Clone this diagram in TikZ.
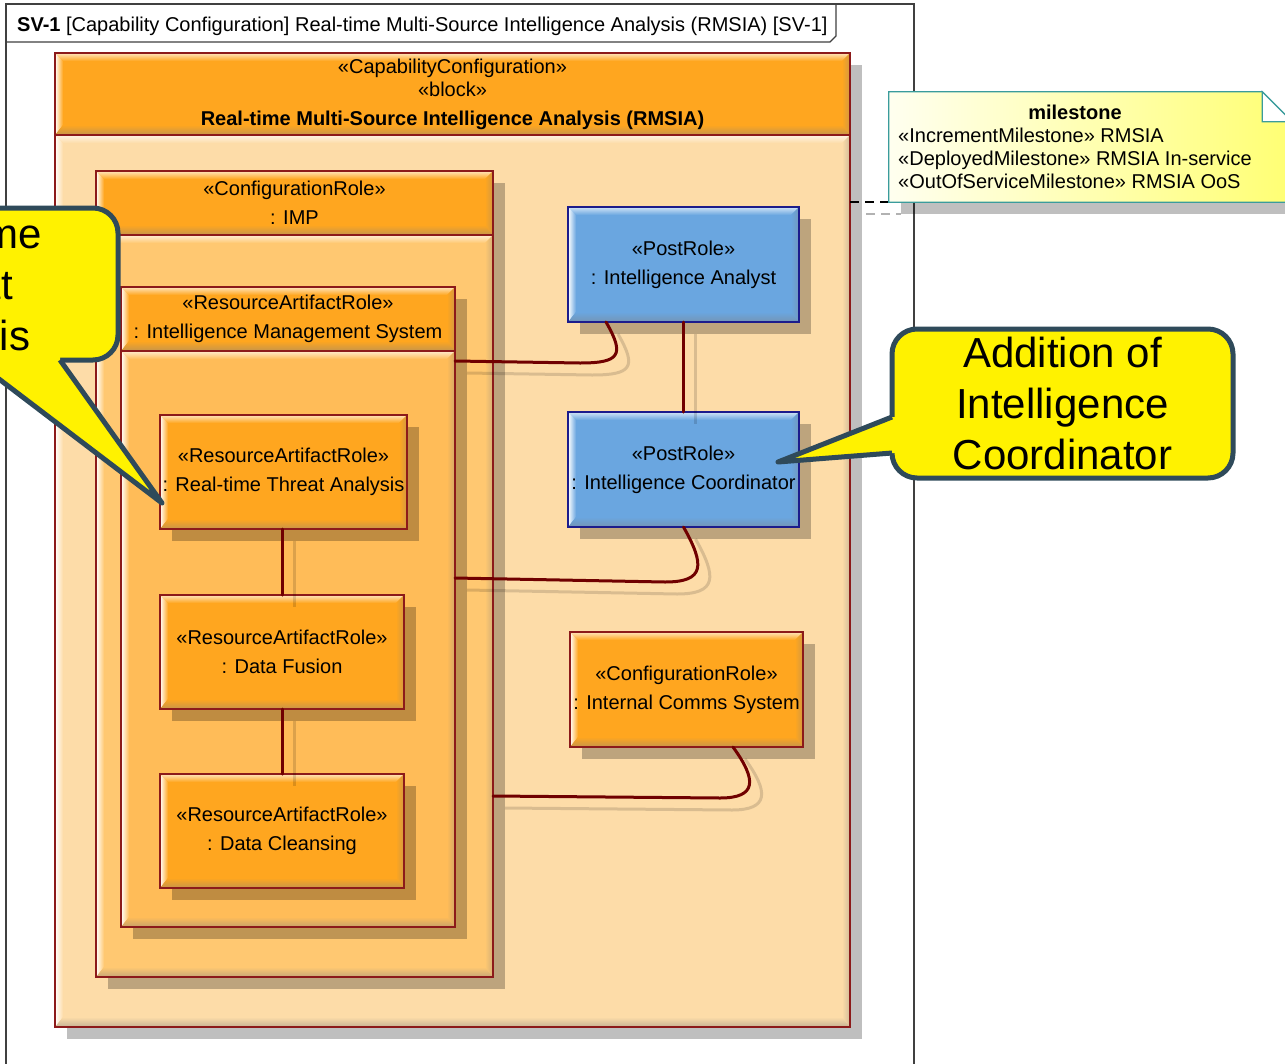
\documentclass[tikz,border=0pt]{standalone}
\usepackage{fontspec}
\setmainfont{Liberation Sans}
\usetikzlibrary{calc,shadows}

\definecolor{roleorange}{HTML}{FFA61F}
\definecolor{blockbody}{HTML}{FDDCA8}
\definecolor{impbody}{HTML}{FFC871}
\definecolor{imsbody}{HTML}{FFBC58}
\definecolor{postblue}{HTML}{6AA6E0}
\definecolor{roleedge}{HTML}{8C1A1A}
\definecolor{postedge}{HTML}{1C1C8C}
\definecolor{wirecol}{HTML}{700000}
\definecolor{calledge}{HTML}{2F4A5A}
\definecolor{noteedge}{HTML}{3A9C9C}
\definecolor{frameedge}{HTML}{404040}

\newcommand\rolefont{\fontsize{20}{29}\selectfont}
\newcommand\blockfont{\fontsize{20}{23}\selectfont}
\newcommand\notefont{\fontsize{20}{23}\selectfont}
\newcommand\callfont{\fontsize{42}{51}\selectfont}

\tikzset{
  bevel/.style={fill=#1, path picture={
    \coordinate (bnw) at (path picture bounding box.north west);
    \coordinate (bne) at (path picture bounding box.north east);
    \coordinate (bsw) at (path picture bounding box.south west);
    \coordinate (bse) at (path picture bounding box.south east);
    \shade[top color=#1!30!white, bottom color=#1]
      (bnw) -- (bne) -- ($(bne)+(-8,8)$) -- ($(bnw)+(8,8)$) -- cycle;
    \shade[left color=white, right color=#1]
      (bnw) -- ($(bnw)+(8,8)$) -- ($(bsw)+(8,-10)$) -- (bsw) -- cycle;
    \shade[top color=#1, bottom color=#1!55!gray]
      (bsw) -- ($(bsw)+(8,-10)$) -- ($(bse)+(-8,-10)$) -- (bse) -- cycle;
    \shade[left color=#1, right color=#1!65!gray]
      (bne) -- (bse) -- ($(bse)+(-8,-10)$) -- ($(bne)+(-8,8)$) -- cycle;
  }},
  dropshadow/.style={general shadow={fill=black, opacity=0.25,
      shadow xshift=12pt, shadow yshift=-12pt}},
  rolebox/.style={bevel=#1, draw=roleedge, line width=1.2pt, inner sep=0pt,
      outer sep=0pt, align=center, font=\rolefont, dropshadow},
  postbox/.style={rolebox=postblue, draw=postedge},
  wire/.style={draw=wirecol, line width=3pt, line cap=round,
      preaction={draw=black, opacity=0.14, line width=3pt,
        transform canvas={shift={(12pt,-12pt)}}}},
  callout/.style={fill=yellow, draw=calledge, line width=5pt},
  pointer/.style={draw=calledge, line width=5pt, line join=round},
}

\begin{document}
\begin{tikzpicture}[x=1pt, y=-1pt]
\useasboundingbox (0,0) rectangle (1285,1063);
\clip (0,0) rectangle (1285,1063);
\fill[white] (0,0) rectangle (1285,1063);

% diagram frame and its name tab
\draw[frameedge, line width=1.2pt] (6,1075) -- (6,4) -- (914,4) -- (914,1075);
\draw[frameedge, line width=1.2pt] (6,42) -- (830,42) -- (836,36) -- (836,4);
\node[anchor=west, inner sep=0pt, font=\fontsize{20}{24}\selectfont] (title) at (17,26)
  {\textbf{SV-1} [Capability Configuration] Real-time Multi-Source Intelligence Analysis (RMSIA) [SV-1]};

% capability configuration block
\node[rolebox=roleorange, minimum width=795pt, minimum height=82pt, font=\blockfont] (rmsiahead) at (452.5,94)
  {«CapabilityConfiguration»\\«block»\\[6pt]\textbf{Real-time Multi-Source Intelligence Analysis (RMSIA)}};
\node[rolebox=blockbody, minimum width=795pt, minimum height=892pt] (rmsia) at (452.5,581) {};

% IMP configuration role
\node[rolebox=roleorange, minimum width=397pt, minimum height=64pt] (imphead) at (294.5,203)
  {«ConfigurationRole»\\: IMP};
\node[rolebox=impbody, minimum width=397pt, minimum height=742pt] (imp) at (294.5,606) {};

% intelligence management system
\node[rolebox=roleorange, minimum width=334pt, minimum height=64pt] (imshead) at (288,319)
  {«ResourceArtifactRole»\\: Intelligence Management System};
\node[rolebox=imsbody, minimum width=334pt, minimum height=576pt] (ims) at (288,639) {};

% resource artifact roles
\node[rolebox=roleorange, minimum width=247pt, minimum height=114pt] (rta) at (283.5,472)
  {«ResourceArtifactRole»\\: Real-time Threat Analysis};
\node[rolebox=roleorange, minimum width=244pt, minimum height=114pt] (df) at (282,652)
  {«ResourceArtifactRole»\\: Data Fusion};
\node[rolebox=roleorange, minimum width=244pt, minimum height=114pt] (dc) at (282,831)
  {«ResourceArtifactRole»\\: Data Cleansing};

% post roles
\node[postbox, minimum width=231pt, minimum height=115pt] (ia) at (683.5,264.5)
  {«PostRole»\\: Intelligence Analyst};
\node[postbox, minimum width=231pt, minimum height=115pt] (ic) at (683.5,469.5)
  {«PostRole»\\: Intelligence Coordinator};

% communications
\node[rolebox=roleorange, minimum width=233pt, minimum height=115pt] (ics) at (686.5,689.5)
  {«ConfigurationRole»\\: Internal Comms System};

% connectors
\draw[wire] (df.north |- rta.south) -- (df.north);
\draw[wire] (df.south) -- (dc.north);
\draw[wire] (ia.south) -- (ic.north);
\draw[wire] ($(ia.south west)+(38,0)$) .. controls (625,355) and (620,363) .. (580,363) -- (ims.east |- 0,361);
\draw[wire] (ic.south) .. controls (705,565) and (705,582) .. (665,582) -- (ims.east |- 0,578);
\draw[wire] ($(ics.south west)+(163,0)$) .. controls (757,780) and (757,798) .. (720,798) -- (imp.east |- 0,796);

% milestone note
\node[minimum width=403pt, minimum height=110pt, inner sep=0pt] (note) at (1090.5,147) {};
\fill[black, opacity=0.25] (901,202) rectangle (1310,214);
\draw[gray!60, line width=2pt, dash pattern=on 9pt off 6pt] (866,214) -- (901,214);
\draw[black, line width=2pt, dash pattern=on 9pt off 6pt] (rmsia.east |- note.south west) -- (note.south west);
\shadedraw[left color=yellow!6, right color=yellow!55, draw=noteedge, line width=1.2pt]
  (note.south west) -- (note.north west) -- ($(note.north east)+(-30,0)$)
  -- ($(note.north east)+(0,30)$) -- (note.south east) -- cycle;
\filldraw[fill=white, draw=noteedge, line width=1.2pt]
  ($(note.north east)+(-30,0)$) -- ($(note.north east)+(-30,30)$) -- ($(note.north east)+(0,30)$) -- cycle;
\node[anchor=north west, inner sep=0pt, font=\notefont] (notetext) at (898,103)
  {\begin{tabular}{@{}l@{}}
    \multicolumn{1}{@{}c@{}}{\textbf{milestone}}\\
    «IncrementMilestone» RMSIA\\
    «DeployedMilestone» RMSIA In-service\\
    «OutOfServiceMilestone» RMSIA OoS
  \end{tabular}};

% callout on the coordinator post
\draw[callout, rounded corners=25pt] (892,329) rectangle (1233,478);
\fill[yellow] (892,417) -- ($(ic.east)+(-21,-7.5)$) -- (892,453) -- (902,453) -- (902,417) -- cycle;
\draw[pointer] (892,417) -- ($(ic.east)+(-21,-7.5)$) -- (892,453);
\node[font=\callfont, align=center] (addcoord) at (1062.5,403.5)
  {Addition of\\Intelligence\\Coordinator};

% callout on the threat analysis role
\draw[callout, rounded corners=25pt] (-210,208) rectangle (118,360);
\fill[yellow] (60,360) -- ($(rta.south west)+(2,-26)$) -- (-26,360) -- (-26,350) -- (60,350) -- cycle;
\draw[pointer] (60,360) -- ($(rta.south west)+(2,-26)$) -- (-26,360);
\node[font=\callfont, align=center] (addrta) at (-48,289)
  {Real-time\\Threat\\Analysis};
\end{tikzpicture}
\end{document}
